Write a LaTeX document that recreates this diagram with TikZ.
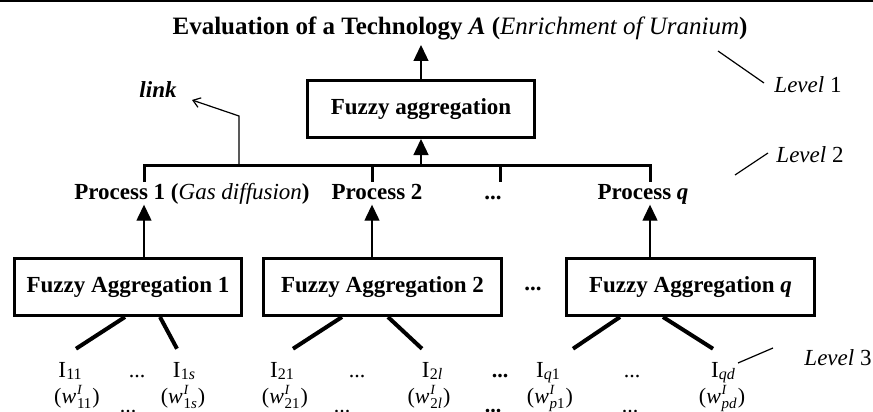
\documentclass[tikz,border=0pt]{standalone}
\usepackage{fontspec}
\setmainfont{Liberation Serif}
\usetikzlibrary{arrows.meta}

% index and weight labels with lowered subscripts in the text font
\newcommand\lowsub[1]{\raisebox{-0.12em}{\fontsize{16}{16}\selectfont #1}}
\newcommand\Ind[1]{I\kern0.3pt\lowsub{#1}}
\newcommand\wsub[1]{\raisebox{-0.25em}{\fontsize{15}{15}\selectfont #1}}
\newcommand\Wgt[1]{(\textit{w}\kern0.8pt\rlap{\raisebox{0.38em}{\fontsize{14}{14}\selectfont\textit{I}}}\wsub{#1}\kern1pt)}

\begin{document}
\begin{tikzpicture}[x=1pt,y=-1pt,
  every node/.style={inner sep=0pt},
  aggbox/.style={draw, line width=3pt, font=\bfseries\fontsize{23}{27}\selectfont, minimum height=57pt},
  proclabel/.style={font=\bfseries\fontsize{23}{27}\selectfont, text height=16pt, text depth=5pt},
  lvl/.style={font=\fontsize{23}{27}\selectfont},
  ind/.style={font=\fontsize{23}{27}\selectfont, anchor=base},
  wgt/.style={font=\fontsize{22}{26}\selectfont, anchor=base},
  dots/.style={font=\fontsize{22}{26}\selectfont, anchor=base},
  bdots/.style={font=\bfseries\fontsize{22}{26}\selectfont, anchor=base},
  uparrow/.style={line width=1.3pt, -{Triangle[length=16pt,width=15pt]}},
  thinline/.style={line width=1.2pt},
  busline/.style={line width=3pt},
  leg/.style={line width=4pt}
]
\useasboundingbox (0,0) rectangle (873,412);
\draw[line width=2pt] (0,1) -- (873,1);

% level 1: the technology and its aggregation
\node[font=\bfseries\fontsize{25}{30}\selectfont, anchor=base] (title) at (460,35)
  {Evaluation of a Technology \textit{A} (\textmd{\textit{Enrichment of Uranium}})};
\node[aggbox, minimum width=227pt] (agg) at (421,109) {Fuzzy aggregation};
\coordinate (ttip) at (421,45);
\draw[uparrow] (agg.north) -- (ttip);

% bus joining the processes
\coordinate (b1) at (144,165); \coordinate (t1) at (144,182);
\coordinate (b2) at (372,165); \coordinate (t2) at (372,182);
\coordinate (b3) at (500,165); \coordinate (t3) at (500,182);
\coordinate (b4) at (650,165); \coordinate (t4) at (650,182);
\coordinate (bmid) at (421,165);
\draw[busline] (t1) -- (b1) -- (b4) -- (t4);
\draw[busline] (b2) -- (t2);
\draw[busline] (b3) -- (t3);
\draw[uparrow] (bmid) -- (agg.south);

% link branch
\coordinate (lk) at (239,165);
\coordinate (lkbend) at (239,116);
\coordinate (lktip) at (192,100);
\draw[thinline, -{Straight Barb[length=7pt,width=10pt]}] (lk) -- (lkbend) -- (lktip);
\node[font=\bfseries\itshape\fontsize{23}{27}\selectfont] (link) at (158,90) {link};

% level 2: processes
\node[proclabel] (p1) at (192,194) {Process 1 (\textmd{\textit{Gas diffusion}})};
\node[proclabel] (p2) at (377,194) {Process 2};
\node[proclabel] (pdots) at (493,194) {...};
\node[proclabel] (pq) at (643,194) {Process \textit{q}};

% level 3: aggregation of indicators
\node[aggbox, minimum width=227pt] (fa1) at (128,287) {Fuzzy Aggregation 1};
\node[aggbox, minimum width=238pt] (fa2) at (382.5,287) {Fuzzy Aggregation 2};
\node[aggbox, minimum width=248pt] (faq) at (690.5,287) {Fuzzy Aggregation \textit{q}};
\node[proclabel] (fdots) at (533,285) {...};

\draw[uparrow] (fa1.north -| t1) -- (p1.south -| t1);
\draw[uparrow] (fa2.north -| t2) -- (p2.south -| t2);
\draw[uparrow] (faq.north -| t4) -- (pq.south -| t4);

% indicators
\node[ind] (i11) at (70,377) {\Ind{11}};
\node[dots] (id1) at (137,377) {...};
\node[ind] (i1s) at (184,377) {\Ind{1\textit{s}}};
\node[ind] (i21) at (282,377) {\Ind{21}};
\node[dots] (id2) at (357,377) {...};
\node[ind] (i2l) at (432,377) {\Ind{2\textit{l}}};
\node[bdots] (id3) at (500,377) {...};
\node[ind] (iq1) at (548,377) {\Ind{\textit{q}1}};
\node[dots] (id4) at (632,377) {...};
\node[ind] (iqd) at (723,377) {\Ind{\textit{qd}}};

\draw[leg] ([xshift=-3pt]fa1.south) -- ([xshift=6pt,yshift=13pt]i11.north);
\draw[leg] ([xshift=32pt]fa1.south) -- ([xshift=-7pt,yshift=13pt]i1s.north);
\draw[leg] ([xshift=-40.5pt]fa2.south) -- ([xshift=11pt,yshift=13pt]i21.north);
\draw[leg] ([xshift=5.5pt]fa2.south) -- ([xshift=-10pt,yshift=13pt]i2l.north);
\draw[leg] ([xshift=-70.5pt]faq.south) -- ([xshift=25pt,yshift=13pt]iq1.north);
\draw[leg] ([xshift=-27.5pt]faq.south) -- ([xshift=-10pt,yshift=13pt]iqd.north);

% weights
\node[wgt] (w11) at (77,403) {\Wgt{11}};
\node[dots] (wd1) at (128,412) {...};
\node[wgt] (w1s) at (183,403) {\Wgt{1\textit{s}}};
\node[wgt] (w21) at (285,403) {\Wgt{21}};
\node[dots] (wd2) at (342,412) {...};
\node[wgt] (w2l) at (429,403) {\Wgt{2\textit{l}}};
\node[bdots] (wd3) at (493,412) {...};
\node[wgt] (wp1) at (550,403) {\Wgt{\textit{p}1}};
\node[dots] (wd4) at (630,412) {...};
\node[wgt] (wpd) at (722,403) {\Wgt{\textit{pd}}};

% level markers
\node[lvl] (lv1) at (808,85) {\textit{Level} 1};
\node[lvl] (lv2) at (810,155) {\textit{Level} 2};
\node[lvl] (lv3) at (838,358) {\textit{Level} 3};
\coordinate (lv1a) at (718,51);  \coordinate (lv1b) at (764,83);
\coordinate (lv2a) at (735,175); \coordinate (lv2b) at (768,153);
\coordinate (lv3a) at (738,363); \coordinate (lv3b) at (773,348);
\draw[thinline] (lv1a) -- (lv1b);
\draw[thinline] (lv2a) -- (lv2b);
\draw[thinline] (lv3a) -- (lv3b);
\end{tikzpicture}
\end{document}
